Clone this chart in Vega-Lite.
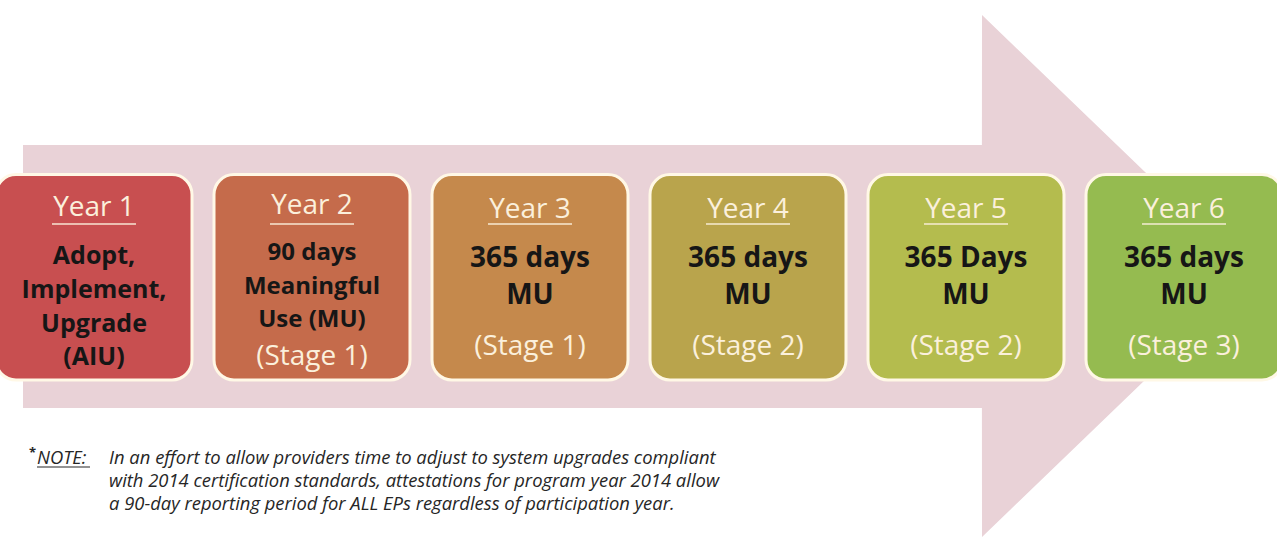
{
  "$schema": "https://vega.github.io/schema/vega-lite/v6.json",
  "width": 1277,
  "height": 538,
  "padding": 0,
  "autosize": {"type": "fit", "contains": "padding"},
  "background": "#ffffff",
  "config": {"view": {"stroke": null}, "axis": {"disable": true}, "legend": {"disable": true}},
  "datasets": {
    "arrow": [
      {"x": 23, "top": 145, "bot": 408},
      {"x": 981.9, "top": 145, "bot": 408},
      {"x": 982, "top": 15, "bot": 537},
      {"x": 1253, "top": 276, "bot": 276}
    ],
    "note": [
      {"x": 109, "y": 458, "text": "In an effort to allow providers time to adjust to system upgrades compliant"},
      {"x": 109, "y": 481, "text": "with 2014 certification standards, attestations for program year 2014 allow"},
      {"x": 109, "y": 504, "text": "a 90-day reporting period for ALL EPs regardless of participation year."}
    ],
    "noteLabel": [{"x": 37, "y": 458, "text": "NOTE:"}],
    "asterisk": [{"x": 29, "y": 453, "text": "*"}],
    "boxes": [
      {"year": 1, "phase": "Adopt, Implement, Upgrade"},
      {"year": 2, "phase": "90 days MU Stage 1"},
      {"year": 3, "phase": "365 days MU Stage 1"},
      {"year": 4, "phase": "365 days MU Stage 2"},
      {"year": 5, "phase": "365 Days MU Stage 2"},
      {"year": 6, "phase": "365 days MU Stage 3"}
    ],
    "years": [
      {"year": 1, "label": "Year 1", "y": 208},
      {"year": 2, "label": "Year 2", "y": 206},
      {"year": 3, "label": "Year 3", "y": 210},
      {"year": 4, "label": "Year 4", "y": 210},
      {"year": 5, "label": "Year 5", "y": 210},
      {"year": 6, "label": "Year 6", "y": 210}
    ],
    "boldY1": [
      {"year": 1, "text": "Adopt,", "y": 256},
      {"year": 1, "text": "Implement,", "y": 290},
      {"year": 1, "text": "Upgrade", "y": 324},
      {"year": 1, "text": "(AIU)", "y": 357}
    ],
    "boldY2": [
      {"year": 2, "text": "90 days", "y": 253},
      {"year": 2, "text": "Meaningful", "y": 287},
      {"year": 2, "text": "Use (MU)", "y": 320}
    ],
    "boldBig": [
      {"year": 3, "text": "365 days", "y": 259},
      {"year": 3, "text": "MU", "y": 296},
      {"year": 4, "text": "365 days", "y": 259},
      {"year": 4, "text": "MU", "y": 296},
      {"year": 5, "text": "365 Days", "y": 259},
      {"year": 5, "text": "MU", "y": 296},
      {"year": 6, "text": "365 days", "y": 259},
      {"year": 6, "text": "MU", "y": 296}
    ],
    "stage": [
      {"year": 2, "text": "(Stage 1)", "y": 357},
      {"year": 3, "text": "(Stage 1)", "y": 347},
      {"year": 4, "text": "(Stage 2)", "y": 347},
      {"year": 5, "text": "(Stage 2)", "y": 347},
      {"year": 6, "text": "(Stage 3)", "y": 347}
    ]
  },
  "resolve": {"scale": {"x": "independent", "color": "independent"}},
  "layer": [
    {
      "layer": [
        {
          "data": {"name": "arrow"},
          "mark": {"type": "area", "color": "#e9d2d7", "opacity": 1},
          "encoding": {
            "x": {"field": "x", "type": "quantitative", "scale": {"domain": [0, 1277], "nice": false, "zero": false}},
            "y": {"field": "top", "type": "quantitative", "scale": {"domain": [0, 538], "reverse": true, "nice": false, "zero": false}},
            "y2": {"field": "bot"}
          }
        },
        {
          "data": {"name": "note"},
          "mark": {"type": "text", "align": "left", "baseline": "middle", "font": "Open Sans", "fontStyle": "italic", "fontSize": 18.4, "color": "#262626"},
          "encoding": {
            "x": {"field": "x", "type": "quantitative"},
            "y": {"field": "y", "type": "quantitative"},
            "text": {"field": "text"}
          }
        },
        {
          "data": {"name": "noteLabel"},
          "mark": {"type": "text", "align": "left", "baseline": "middle", "font": "Open Sans", "fontStyle": "italic", "fontSize": 18.4, "color": "#262626"},
          "encoding": {
            "x": {"field": "x", "type": "quantitative"},
            "y": {"field": "y", "type": "quantitative"},
            "text": {"field": "text"}
          }
        },
        {
          "data": {"name": "asterisk"},
          "mark": {"type": "text", "align": "left", "baseline": "middle", "font": "Open Sans", "fontWeight": "bold", "fontSize": 13, "color": "#262626"},
          "encoding": {
            "x": {"field": "x", "type": "quantitative"},
            "y": {"field": "y", "type": "quantitative"},
            "text": {"field": "text"}
          }
        },
        {
          "data": {"name": "noteLabel"},
          "mark": {"type": "rule", "color": "#262626", "strokeWidth": 1.2},
          "encoding": {
            "x": {"datum": 37},
            "x2": {"datum": 90},
            "y": {"datum": 467}
          }
        }
      ]
    },
    {
      "layer": [
        {
          "data": {"name": "boxes"},
          "mark": {"type": "rect", "cornerRadius": 20, "stroke": "#fff8e6", "strokeWidth": 3, "clip": true},
          "encoding": {
            "x": {"field": "year", "type": "ordinal", "scale": {"type": "band", "domain": [1, 2, 3, 4, 5, 6], "range": [-4, 1282], "paddingInner": 0.101, "paddingOuter": 0}},
            "y": {"datum": 174.5, "type": "quantitative"},
            "y2": {"datum": 380},
            "color": {"field": "year", "type": "ordinal", "scale": {"domain": [1, 2, 3, 4, 5, 6], "range": ["#c84f50", "#c56b4b", "#c5894c", "#b9a44c", "#b4bc4e", "#95bb50"]}}
          }
        },
        {
          "data": {"name": "years"},
          "mark": {"type": "text", "align": "center", "baseline": "middle", "font": "Open Sans", "fontSize": 28, "color": "#fbf0dc"},
          "encoding": {
            "x": {"field": "year", "type": "ordinal"},
            "y": {"field": "y", "type": "quantitative"},
            "text": {"field": "label"}
          }
        },
        {
          "data": {"name": "years"},
          "mark": {"type": "tick", "orient": "horizontal", "size": 84, "thickness": 2, "color": "#fbf0dc"},
          "encoding": {
            "x": {"field": "year", "type": "ordinal"},
            "y": {"datum": 224, "type": "quantitative"}
          }
        },
        {
          "data": {"name": "boldY1"},
          "mark": {"type": "text", "align": "center", "baseline": "middle", "font": "Open Sans", "fontWeight": "bold", "fontSize": 25, "color": "#161616"},
          "encoding": {
            "x": {"field": "year", "type": "ordinal"},
            "y": {"field": "y", "type": "quantitative"},
            "text": {"field": "text"}
          }
        },
        {
          "data": {"name": "boldY2"},
          "mark": {"type": "text", "align": "center", "baseline": "middle", "font": "Open Sans", "fontWeight": "bold", "fontSize": 24, "color": "#161616"},
          "encoding": {
            "x": {"field": "year", "type": "ordinal"},
            "y": {"field": "y", "type": "quantitative"},
            "text": {"field": "text"}
          }
        },
        {
          "data": {"name": "boldBig"},
          "mark": {"type": "text", "align": "center", "baseline": "middle", "font": "Open Sans", "fontWeight": "bold", "fontSize": 28, "color": "#161616"},
          "encoding": {
            "x": {"field": "year", "type": "ordinal"},
            "y": {"field": "y", "type": "quantitative"},
            "text": {"field": "text"}
          }
        },
        {
          "data": {"name": "stage"},
          "mark": {"type": "text", "align": "center", "baseline": "middle", "font": "Open Sans", "fontSize": 28, "color": "#fbf0dc"},
          "encoding": {
            "x": {"field": "year", "type": "ordinal"},
            "y": {"field": "y", "type": "quantitative"},
            "text": {"field": "text"}
          }
        }
      ]
    }
  ]
}
